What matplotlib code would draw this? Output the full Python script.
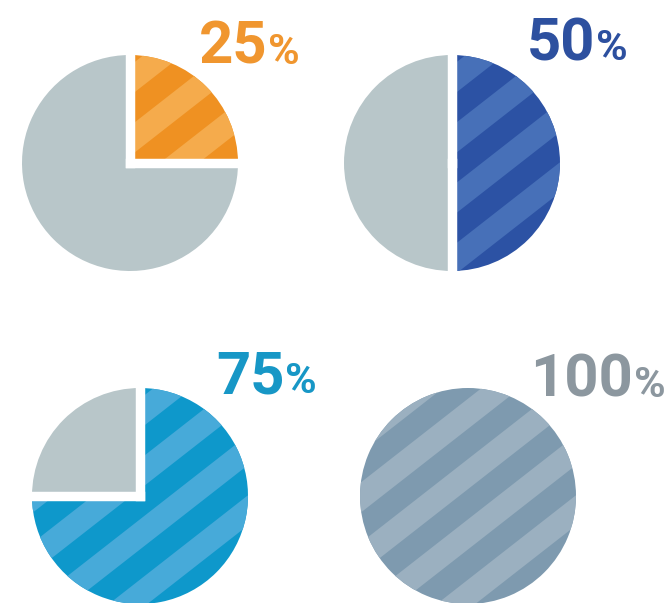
import numpy as np
import matplotlib.pyplot as plt
from matplotlib.patches import Polygon

# -----------------------------
# Data
# -----------------------------
shares = [25, 50, 75, 100]
base_colors = ["#EF9122", "#2C52A4", "#0E98CB", "#7E9AAF"]
stripe_colors = ["#F5AB4C", "#4770B8", "#47AAD9", "#9BB0C0"]
text_colors = ["#F0962F", "#2D509F", "#1797C6", "#8C979F"]
rest_color = "#B8C6C9"

# circle centres in pixels (from top-left) and label anchor (data units)
centers_px = [(130, 163), (452, 163), (140, 496), (468, 496)]
label_anchor = [(1.27, 0.92), (1.33, 0.95), (1.34, 0.95), (1.53, 0.92)]

W, H = 665, 603
R_PX = 108
HALF = 1.3

fig = plt.figure(figsize=(W / 100, H / 100), dpi=100)
fig.patch.set_facecolor("white")


def add_stripes(ax, wedge, color, angle=38, period=0.44, phase=0.05):
    a = np.deg2rad(angle)
    d = np.array([np.cos(a), np.sin(a)])
    n = np.array([-np.sin(a), np.cos(a)])
    L = 3.0
    for k in range(-8, 9):
        o1 = k * period + phase
        o2 = o1 + period / 2
        pts = [o1 * n - L * d, o1 * n + L * d, o2 * n + L * d, o2 * n - L * d]
        band = Polygon(pts, closed=True, facecolor=color, edgecolor="none", zorder=2)
        ax.add_patch(band)
        band.set_clip_path(wedge)


for i, share in enumerate(shares):
    cx, cy = centers_px[i]
    side = 2 * HALF * R_PX
    rect = [(cx - side / 2) / W, (H - cy - side / 2) / H, side / W, side / H]
    ax = fig.add_axes(rect)

    values = [share, 100 - share] if share < 100 else [share]
    colors = [base_colors[i], rest_color] if share < 100 else [base_colors[i]]
    wedges, _ = ax.pie(values, colors=colors, startangle=90, counterclock=False,
                       radius=1.0, wedgeprops=dict(linewidth=0))
    add_stripes(ax, wedges[0], stripe_colors[i])

    # white gaps along the wedge borders
    if share < 100:
        for ang in [90, 90 - 360 * share / 100]:
            t = np.deg2rad(ang)
            ax.plot([0, 1.08 * np.cos(t)], [0, 1.08 * np.sin(t)], color="white",
                    lw=6.8, solid_capstyle="projecting", zorder=5)

    ax.set_xlim(-HALF, HALF)
    ax.set_ylim(-HALF, HALF)
    ax.set_aspect("equal")
    ax.axis("off")

    tx, ty = label_anchor[i]
    ax.text(tx, ty, str(share), ha="right", va="baseline", fontsize=43,
            fontweight="bold", family="Roboto", color=text_colors[i])
    ax.text(tx + 0.005, ty, "%", ha="left", va="baseline", fontsize=31,
            fontweight="bold", family="Roboto", color=text_colors[i])

fig.savefig("out.png", dpi=100)
